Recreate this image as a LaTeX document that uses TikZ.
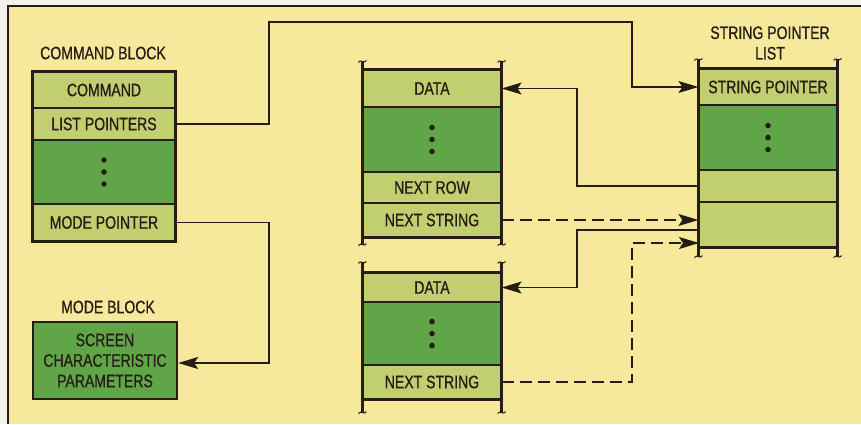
\documentclass[tikz,border=0pt]{standalone}
\usepackage{fontspec}
\setmainfont{Liberation Sans}[FakeStretch=0.78,FakeBold=0.8]
\usetikzlibrary{arrows.meta,calc}
\definecolor{bg}{RGB}{247,233,155}
\definecolor{paper}{RGB}{244,242,232}
\definecolor{lightg}{RGB}{194,207,112}
\definecolor{darkg}{RGB}{96,166,72}
\definecolor{ink}{RGB}{38,30,22}
\begin{document}
\begin{tikzpicture}[x=1pt,y=-1pt,
  >={Stealth[length=20pt,width=12pt,inset=4pt]},
  cell/.style={draw=ink,line width=1.2pt,inner sep=0pt,minimum height=#1,font=\fontsize{18}{20.5}\selectfont,text=ink},
  lcell/.style={cell=#1,fill=lightg},
  dcell/.style={cell=#1,fill=darkg},
  outerbox/.style={draw=ink,line width=2.4pt},
  sideline/.style={draw=ink,line width=2.4pt},
  lbl/.style={font=\fontsize{18}{20.5}\selectfont,text=ink,align=center,inner sep=0pt},
  conn/.style={draw=ink,line width=1.3pt},
  arr/.style={conn,->},
  dashline/.style={dash pattern=on 12pt off 6pt},
  tcap/.pic={\draw[ink,line width=1pt] (-4,1) .. controls (-2,-3) and (2,3) .. (4,-1);}
]
\useasboundingbox (0,0) rectangle (861,424);
% background and frame
\fill[paper] (0,0) rectangle (861,424);
\fill[bg] (8,6) rectangle (861,424);
\draw[ink,line width=2.2pt] (8,424) -- (8,6) -- (861,6);

% ---------- command block ----------
\node[lbl] (cblbl) at (103,53) {COMMAND BLOCK};
\node[lcell=36pt,minimum width=142pt] (cmd) at (104,90) {COMMAND};
\node[lcell=32pt,minimum width=142pt] (lp) at (104,124) {LIST POINTERS};
\node[dcell=64pt,minimum width=142pt] (cdots) at (104,172) {};
\node[lcell=37pt,minimum width=142pt] (mp) at (104,222.5) {MODE POINTER};
\draw[outerbox] (cmd.north west) rectangle (mp.south east);
\foreach \d in {-12,0,12} \fill[ink] ($(cdots.center)+(0,\d)$) circle (2.8pt);

% ---------- mode block ----------
\node[lbl] (mblbl) at (108,307) {MODE BLOCK};
\node[dcell=77pt,minimum width=144pt,align=center,line width=2.4pt] (mode) at (105,360.5) {SCREEN\\CHARACTERISTIC\\PARAMETERS};

% ---------- middle top block ----------
\node[lcell=37pt,minimum width=138pt] (data1) at (432,88.5) {DATA};
\node[dcell=65pt,minimum width=138pt] (mdots1) at (432,139.5) {};
\node[lcell=31pt,minimum width=138pt] (nrow) at (432,187.5) {NEXT ROW};
\node[lcell=34pt,minimum width=138pt] (ns1) at (432,220) {NEXT STRING};
\draw[outerbox] (data1.north west) rectangle (ns1.south east);
\draw[sideline] ($(data1.north west)+(0,-8)$) -- ($(ns1.south west)+(0,7)$);
\draw[sideline] ($(data1.north east)+(0,-8)$) -- ($(ns1.south east)+(0,7)$);
\foreach \d in {-12,0,12} \fill[ink] ($(mdots1.center)+(0,\d)$) circle (2.8pt);
\pic at ($(data1.north west)+(0,-8)$) {tcap};
\pic at ($(data1.north east)+(0,-8)$) {tcap};
\pic at ($(ns1.south west)+(0,7)$) {tcap};
\pic at ($(ns1.south east)+(0,7)$) {tcap};

% ---------- middle bottom block ----------
\node[lcell=29pt,minimum width=138pt] (data2) at (432,287.5) {DATA};
\node[dcell=63pt,minimum width=138pt] (mdots2) at (432,333.5) {};
\node[lcell=34pt,minimum width=138pt] (ns2) at (432,382) {NEXT STRING};
\draw[outerbox] (data2.north west) rectangle (ns2.south east);
\draw[sideline] ($(data2.north west)+(0,-10)$) -- ($(ns2.south west)+(0,13)$);
\draw[sideline] ($(data2.north east)+(0,-10)$) -- ($(ns2.south east)+(0,13)$);
\foreach \d in {-12,0,12} \fill[ink] ($(mdots2.center)+(0,\d)$) circle (2.8pt);
\pic at ($(data2.north west)+(0,-10)$) {tcap};
\pic at ($(data2.north east)+(0,-10)$) {tcap};
\pic at ($(ns2.south west)+(0,13)$) {tcap};
\pic at ($(ns2.south east)+(0,13)$) {tcap};

% ---------- string pointer list ----------
\node[lbl] (splbl) at (770,43) {STRING POINTER\\LIST};
\node[lcell=36pt,minimum width=138pt] (sp) at (768,87) {STRING POINTER};
\node[dcell=65pt,minimum width=138pt] (sdots) at (768,137.5) {};
\node[lcell=32pt,minimum width=138pt] (sr3) at (768,186) {};
\node[lcell=45pt,minimum width=138pt] (sr4) at (768,224.5) {};
\draw[outerbox] (sp.north west) rectangle (sr4.south east);
\draw[sideline] ($(sp.north west)+(0,-9)$) -- ($(sr4.south west)+(0,9)$);
\draw[sideline] ($(sp.north east)+(0,-9)$) -- ($(sr4.south east)+(0,9)$);
\foreach \d in {-12,0,12} \fill[ink] ($(sdots.center)+(0,\d)$) circle (2.8pt);
\pic at ($(sp.north west)+(0,-9)$) {tcap};
\pic at ($(sp.north east)+(0,-9)$) {tcap};
\pic at ($(sr4.south west)+(0,9)$) {tcap};
\pic at ($(sr4.south east)+(0,9)$) {tcap};

% ---------- connectors ----------
\coordinate (c1) at (269,22);
\coordinate (c2) at (632,22);
\draw[arr] (lp.east) -| (c1) -- (c2) |- (sp.west);

\coordinate (c3) at (269,363);
\draw[arr] (mp.east) -| (c3) -- (mode.east |- c3);

\coordinate (c4) at (577,186);
\draw[arr] (sr3.west) -- (c4) |- (data1.east);

\draw[arr,dashline] (ns1.east) -- (ns1.east -| sp.west);

\coordinate (c5) at (699,230);
\coordinate (c6) at (577,230);
\draw[arr] (c5) -- (c6) |- (data2.east);

\coordinate (c7) at (632,243);
\coordinate (c8) at (699,243);
\draw[arr,dashline] (ns2.east) -| (c7) -- (c8);
\end{tikzpicture}
\end{document}
